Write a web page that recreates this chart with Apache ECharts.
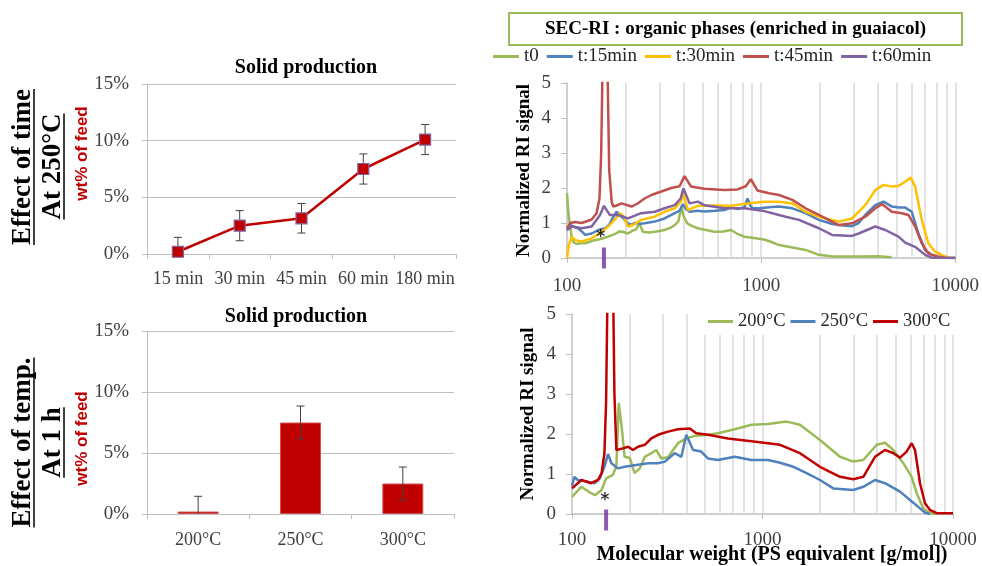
<!DOCTYPE html>
<html><head><meta charset="utf-8">
<script src="https://cdn.jsdelivr.net/npm/echarts@6/dist/echarts.min.js"></script>
<style>html,body{margin:0;padding:0;background:#fff}#c{width:982px;height:566px}</style>
</head><body><div id="c"></div>
<script>
// ---------- data ----------
const timeCategories = ['15 min', '30 min', '45 min', '60 min', '180 min'];
const timeValues = [0.2, 2.5, 3.15, 7.5, 10.1];
const timeErrors = [1.27, 1.33, 1.3, 1.33, 1.33];

const tempCategories = ['200°C', '250°C', '300°C'];
const tempValues = [0.2, 7.5, 2.5];
const tempErrors = [1.25, 1.35, 1.35];

const percentTicks = [0, 5, 10, 15];
const signalTicks = [0, 1, 2, 3, 4, 5];
const mwRange = [100, 10000];
const logGridValues = [200, 300, 400, 500, 600, 700, 800, 900, 1000, 2000, 3000, 4000, 5000, 6000, 7000, 8000, 9000, 10000];

const t0 = [[100,1.85],[102,1.2],[105.7,0.6],[108,0.45],[112,0.4],[118,0.43],[124,0.42],[132,0.47],[139,0.51],[151,0.55],[163,0.61],[176,0.68],[186,0.76],[194,0.75],[206,0.7],[218,0.78],[227,0.82],[236,0.99],[246,0.75],[265,0.73],[283,0.75],[300,0.77],[318,0.8],[340,0.86],[359,0.94],[375,1.05],[388,1.47],[398,1.2],[416,0.99],[440,0.92],[472,0.85],[520,0.8],[574,0.75],[640,0.76],[700,0.8],[760,0.68],[818,0.61],[900,0.58],[1036,0.53],[1140,0.45],[1237,0.37],[1450,0.3],[1695,0.23],[1983,0.09],[2300,0.05],[2513,0.04],[3200,0.04],[4000,0.05],[4700,0.02]];
const t15 = [[100,0.8],[104,0.94],[108,0.9],[114,0.85],[119,0.76],[124,0.66],[134,0.7],[145,0.8],[157,0.85],[165,0.95],[172,1.15],[180,1.32],[186,1.25],[191,1.18],[206,0.99],[215,0.95],[223,1.0],[240,0.98],[251,0.99],[283,1.04],[318,1.13],[359,1.28],[380,1.35],[395,1.54],[410,1.4],[428,1.32],[470,1.35],[510,1.33],[580,1.35],[647,1.37],[700,1.45],[757,1.4],[820,1.45],[851,1.7],[880,1.5],[903,1.42],[977,1.42],[1100,1.45],[1237,1.47],[1448,1.42],[1695,1.28],[1983,1.09],[2300,0.98],[2513,0.94],[2941,0.91],[3181,1.0],[3441,1.23],[3873,1.51],[4273,1.61],[4716,1.47],[5102,1.44],[5520,1.44],[5972,1.32],[6462,0.7],[6990,0.23],[7560,0.09],[8343,0.01],[10000,0]];
const t30 = [[100,0],[102,0.35],[105.7,0.61],[110,0.51],[119,0.47],[134,0.56],[151,0.75],[163,0.9],[176,1.09],[187,1.28],[195,1.2],[206,0.9],[220,0.95],[241,1.09],[283,1.18],[318,1.32],[359,1.42],[385,1.6],[398,1.85],[419,1.37],[472,1.49],[574,1.5],[700,1.49],[851,1.56],[1036,1.61],[1237,1.61],[1448,1.56],[1695,1.32],[1983,1.18],[2513,1.04],[2941,1.13],[3441,1.51],[3873,1.94],[4273,2.09],[4716,2.04],[5102,2.06],[5520,2.18],[5900,2.3],[6212,2.04],[6722,1.09],[7270,0.42],[7864,0.18],[8511,0.09],[9207,0.01],[10000,0]];
const t45 = [[100,0.85],[104,1.0],[110,1.03],[119,1.0],[134,1.1],[142,1.28],[147,1.7],[150,3],[153,6],[157,9],[161,6],[165,2.5],[170,1.6],[173,1.47],[180,1.5],[191,1.56],[215,1.47],[230,1.55],[251,1.7],[272,1.8],[306,1.9],[344,2.0],[380,2.05],[403,2.34],[436,2.04],[510,1.98],[646,1.94],[756,1.96],[834,2.05],[885,2.25],[957,1.93],[1099,1.85],[1237,1.8],[1448,1.66],[1695,1.42],[1983,1.23],[2513,0.94],[2941,0.99],[3441,1.18],[3873,1.42],[4191,1.54],[4716,1.32],[5306,1.28],[5742,1.23],[6212,0.9],[6722,0.42],[7270,0.13],[8181,0.04],[8851,0.01],[10000,0]];
const t60 = [[100,0.8],[106,0.9],[119,0.85],[134,0.9],[148,1.23],[155,1.49],[166,1.23],[183,1.23],[206,1.13],[241,1.28],[283,1.32],[318,1.42],[359,1.51],[385,1.7],[398,1.99],[428,1.56],[472,1.61],[510,1.51],[647,1.42],[818,1.42],[1036,1.34],[1143,1.28],[1338,1.18],[1566,1.09],[1983,0.85],[2322,0.66],[2941,0.63],[3181,0.7],[3873,0.9],[4359,0.8],[5102,0.61],[5520,0.44],[6212,0.32],[6990,0.09],[7560,0.01],[10000,0]];

const temp200 = [[100,0.43],[112,0.68],[126,0.52],[132,0.47],[143,0.6],[151,0.89],[164,0.98],[171,1.2],[176,2.78],[182,2.2],[189,1.43],[201,1.4],[213,1.02],[227,1.14],[241,1.43],[261,1.52],[277,1.6],[294,1.39],[319,1.42],[360,1.77],[398,1.89],[440,1.95],[517,1.98],[584,2.02],[714,2.12],[874,2.23],[1069,2.25],[1339,2.31],[1573,2.23],[2003,1.85],[2551,1.43],[2998,1.31],[3383,1.35],[3975,1.73],[4395,1.78],[4862,1.6],[5486,1.27],[6067,0.93],[6447,0.52],[6987,0.14],[7573,0.02],[8208,0]];
const temp250 = [[100,0.7],[103,0.93],[107,0.85],[121,0.81],[131,0.77],[140,0.89],[148,1.18],[154.6,1.5],[161,1.27],[174,1.14],[189,1.18],[213,1.22],[251,1.27],[283,1.27],[307,1.31],[346,1.52],[375,1.43],[398,1.98],[432,1.6],[477,1.56],[517,1.39],[584,1.35],[714,1.43],[874,1.35],[1069,1.35],[1236,1.28],[1452,1.18],[1705,1.02],[2003,0.85],[2354,0.64],[2998,0.6],[3383,0.68],[3896,0.85],[4395,0.77],[5270,0.56],[5948,0.35],[6712,0.14],[7129,0.03],[7573,0]];
const temp300 = [[100,0.64],[112,0.85],[126,0.77],[137,0.85],[143,1.02],[148,1.52],[151,2.8],[154,6],[159,10],[164,6],[167,3],[171,1.6],[185,1.64],[197,1.68],[209,1.6],[222,1.68],[241,1.73],[261,1.89],[283,1.98],[319,2.06],[360,2.12],[415,2.14],[449,2.02],[517,1.98],[659,1.89],[874,1.82],[1069,1.77],[1236,1.73],[1573,1.52],[2003,1.18],[2551,0.93],[2998,0.87],[3383,0.93],[3896,1.43],[4395,1.6],[4862,1.52],[5270,1.41],[5711,1.56],[6067,1.77],[6318,1.6],[6712,0.77],[7129,0.27],[7573,0.1],[8208,0.02],[10000,0.02]];

const markTop = [[155, 0]];
const markBottom = [[151, 0]];
const asteriskTop = [[149, 0.58]];
const asteriskBottom = [[149, 0.33]];

// ---------- styling ----------
const serif = 'Liberation Serif';
const axisGray = '#bfbfbf';
const gridGray = '#d9d9d9';
const labelColor = '#404040';
const C = { green:'#9BBB59', blue:'#4F81BD', yellow:'#FFC000', red:'#C0504D', purple:'#8064A2', dark:'#C00000', mark:'#7030A0' };

const chart = echarts.init(document.getElementById('c'), null, {renderer:'canvas'});

function measure(str, font) {
  const ctx = document.createElement('canvas').getContext('2d');
  ctx.font = font; return ctx.measureText(str).width;
}

function catX(gi, cats, margin) {
  return { type:'category', gridIndex:gi, data:cats,
    axisLine:{show:true, lineStyle:{color:axisGray, width:1}},
    axisTick:{show:true, length:5, alignWithLabel:false, lineStyle:{color:axisGray}},
    axisLabel:{color:labelColor, fontFamily:serif, fontSize:18, margin:margin, interval:0} };
}
function pctY(gi) {
  return { type:'value', gridIndex:gi, min:percentTicks[0], max:percentTicks[percentTicks.length-1], interval:percentTicks[1]-percentTicks[0],
    axisLine:{show:true, lineStyle:{color:axisGray}},
    axisTick:{show:true, length:5, lineStyle:{color:axisGray}},
    axisLabel:{color:labelColor, fontFamily:serif, fontSize:19, margin:18, formatter:'{value}%'},
    splitLine:{show:true, lineStyle:{color:axisGray, width:1}} };
}
function logX(gi, margin) {
  return { type:'log', gridIndex:gi, logBase:10, min:mwRange[0], max:mwRange[1],
    axisLine:{show:true, lineStyle:{color:axisGray, width:1.5}},
    axisTick:{show:true, length:5, lineStyle:{color:axisGray}},
    axisLabel:{color:labelColor, fontFamily:serif, fontSize:19, margin:margin, formatter:v => String(Math.round(v))},
    splitLine:{show:false} };
}
function signalY(gi, gap) {
  return { type:'value', gridIndex:gi, min:signalTicks[0], max:signalTicks[signalTicks.length-1], interval:1,
    name:'Normalized RI signal', nameLocation:'middle', nameRotate:90, nameGap:gap,
    nameTextStyle:{fontFamily:serif, fontWeight:'bold', fontSize:19, color:'#000'},
    axisLine:{show:true, lineStyle:{color:axisGray, width:1.5}},
    axisTick:{show:true, length:6, lineStyle:{color:axisGray}},
    axisLabel:{color:labelColor, fontFamily:serif, fontSize:19, margin:16},
    splitLine:{show:false} };
}
function curve(name, data, color, gi, withGrid) {
  const s = { name, type:'line', xAxisIndex:gi, yAxisIndex:gi, data, symbol:'none', showSymbol:false,
    lineStyle:{color, width:2.5}, itemStyle:{color}, z:3, clip:true, silent:true };
  if (withGrid) {
    s.markLine = { silent:true, symbol:['none','none'], animation:false, z:1,
      label:{show:false}, lineStyle:{color:gridGray, width:1.5, type:'solid'},
      emphasis:{disabled:true},
      data: logGridValues.map(v => ({xAxis:v})) };
  }
  return s;
}
function errorBars(gi, values, errors, z) {
  return { type:'custom', xAxisIndex:gi, yAxisIndex:gi, z, silent:true,
    data: values.map((v,i) => [i, v, errors[i]]),
    encode:{x:0, y:1},
    renderItem(params, api) {
      const i = api.value(0), v = api.value(1), e = api.value(2);
      const hiP = api.coord([i, v + e]);
      const loP = api.coord([i, Math.max(0, v - e)]);
      const x = hiP[0], w = 4, st = {stroke:'#404040', lineWidth:1};
      const ch = [
        {type:'line', shape:{x1:x, y1:hiP[1], x2:x, y2:loP[1]}, style:st},
        {type:'line', shape:{x1:x-w, y1:hiP[1], x2:x+w, y2:hiP[1]}, style:st}
      ];
      if (v - e >= 0) ch.push({type:'line', shape:{x1:x-w, y1:loP[1], x2:x+w, y2:loP[1]}, style:st});
      return {type:'group', children:ch};
    } };
}
function markBar(gi, data, offset) {
  return { type:'scatter', xAxisIndex:gi, yAxisIndex:gi, data, symbol:'rect', symbolSize:[4,21], symbolOffset:[0,offset],
    itemStyle:{color:C.mark}, clip:false, silent:true, z:6 };
}
function asterisk(gi, data) {
  return { type:'scatter', xAxisIndex:gi, yAxisIndex:gi, data, symbolSize:1, itemStyle:{color:'rgba(0,0,0,0)'},
    label:{show:true, formatter:'*', position:'inside', color:'#000', fontSize:17, fontWeight:'bold', fontFamily:'DejaVu Sans'},
    clip:false, silent:true, z:6 };
}

// ---------- rotated side labels ----------
const sideFont = 'bold 27px "Liberation Serif"';
const redFont = 'bold 17px "Liberation Sans"';
function sideText(text, cx, cy, underline) {
  const els = [{type:'text', x:cx, y:cy, rotation:Math.PI/2,
    style:{text, font:sideFont, fill:'#000', align:'center', verticalAlign:'middle'}}];
  if (underline) {
    const w = measure(text, sideFont);
    els.push({type:'line', shape:{x1:cx+11, y1:cy-w/2, x2:cx+11, y2:cy+w/2}, style:{stroke:'#000', lineWidth:1.5}});
  }
  return els;
}
const graphics = [].concat(
  sideText('Effect of time', 23, 167, true),
  sideText('At 250°C', 53, 166.5, true),
  sideText('Effect of temp.', 23, 442.5, true),
  sideText('At 1 h', 53, 442.5, true),
  [
    {type:'text', x:82, y:153.5, rotation:Math.PI/2, style:{text:'wt% of feed', font:redFont, fill:'#C00000', align:'center', verticalAlign:'middle'}},
    {type:'text', x:82, y:438.5, rotation:Math.PI/2, style:{text:'wt% of feed', font:redFont, fill:'#C00000', align:'center', verticalAlign:'middle'}},
    {type:'text', x:306, y:68, style:{text:'Solid production', font:'bold 20px "Liberation Serif"', fill:'#000', align:'center', verticalAlign:'middle'}},
    {type:'text', x:296, y:317, style:{text:'Solid production', font:'bold 20px "Liberation Serif"', fill:'#000', align:'center', verticalAlign:'middle'}},
    {type:'rect', shape:{x:509, y:13, width:453, height:32}, style:{fill:'#fff', stroke:C.green, lineWidth:2}, z:0},
    {type:'text', x:735.5, y:29.5, style:{text:'SEC-RI : organic phases (enriched in guaiacol)', font:'bold 19px "Liberation Serif"', fill:'#000', align:'center', verticalAlign:'middle'}},
    {type:'text', x:772, y:555, style:{text:'Molecular weight (PS equivalent [g/mol])', font:'bold 20px "Liberation Serif"', fill:'#000', align:'center', verticalAlign:'middle'}}
  ]
);

const option = {
  animation:false,
  backgroundColor:'#fff',
  grid:[
    {left:147, top:84, width:309, height:170},
    {left:147, top:331, width:307, height:183},
    {left:567, top:83, width:390, height:175},
    {left:572, top:314, width:381, height:200}
  ],
  xAxis:[ catX(0, timeCategories, 16), catX(1, tempCategories, 17), logX(2, 19), logX(3, 17) ],
  yAxis:[ pctY(0), pctY(1), signalY(2, 33), signalY(3, 34) ],
  legend:[
    { data:['t0','t:15min','t:30min','t:45min','t:60min'], left:493, top:47, padding:0, icon:'rect',
      itemWidth:26, itemHeight:3, itemGap:8, selectedMode:false,
      textStyle:{fontFamily:serif, fontSize:19, color:'#262626'} },
    { data:['200°C','250°C','300°C'], left:700, top:308, padding:[4,4,4,8], backgroundColor:'#fff', icon:'rect',
      itemWidth:25, itemHeight:3, itemGap:5, selectedMode:false, z:10,
      textStyle:{fontFamily:serif, fontSize:18.5, color:'#262626'} }
  ],
  graphic: graphics,
  series:[
    errorBars(0, timeValues, timeErrors, 2),
    { name:'Solid production (time)', type:'line', xAxisIndex:0, yAxisIndex:0, data:timeValues,
      symbol:'rect', symbolSize:11, lineStyle:{color:C.dark, width:2.5},
      itemStyle:{color:C.dark, borderColor:C.purple, borderWidth:1.2}, z:3, silent:true },
    { name:'Solid production (temp)', type:'bar', xAxisIndex:1, yAxisIndex:1, data:tempValues, barWidth:'40%',
      itemStyle:{color:C.dark, borderColor:'#d05050', borderWidth:1}, z:2, silent:true },
    errorBars(1, tempValues, tempErrors, 4),
    curve('t0', t0, C.green, 2, true),
    curve('t:15min', t15, C.blue, 2),
    curve('t:30min', t30, C.yellow, 2),
    curve('t:45min', t45, C.red, 2),
    curve('t:60min', t60, C.purple, 2),
    curve('200°C', temp200, C.green, 3, true),
    curve('250°C', temp250, C.blue, 3),
    curve('300°C', temp300, C.dark, 3),
    markBar(2, markTop, 0),
    markBar(3, markBottom, 6),
    asterisk(2, asteriskTop),
    asterisk(3, asteriskBottom)
  ]
};
chart.setOption(option);
</script>
</body></html>
